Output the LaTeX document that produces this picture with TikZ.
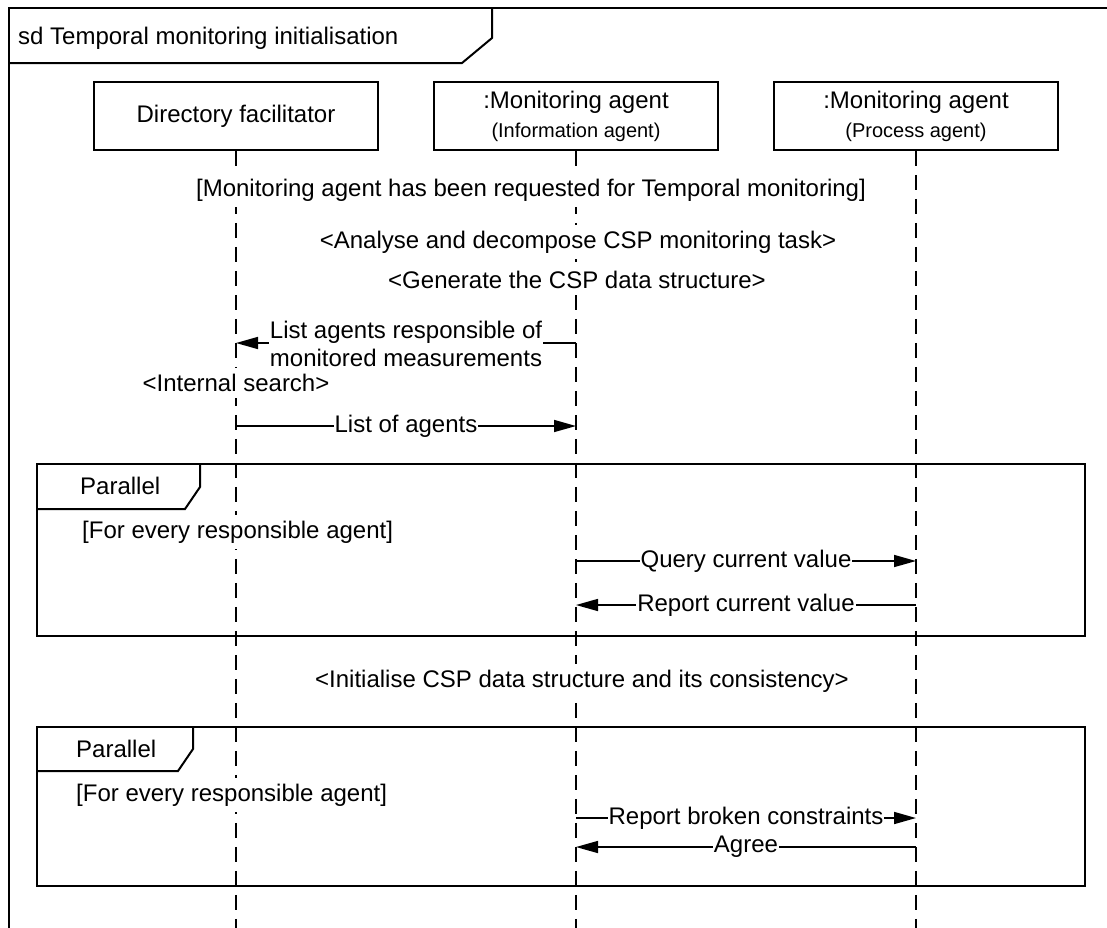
\documentclass[tikz,border=0pt]{standalone}
\usepackage{fontspec}
\setmainfont{Liberation Sans}
\usetikzlibrary{arrows.meta}
\begin{document}
\begin{tikzpicture}[x=1pt,y=-1pt,
  every node/.style={font=\fontsize{24}{28}\selectfont},
  head/.style={draw, line width=1.6pt, minimum width=284pt, minimum height=68pt, align=center, inner sep=0pt},
  life/.style={line width=1.6pt, dash pattern=on 15pt off 9pt},
  frm/.style={line width=2pt},
  msg/.style={line width=1.6pt, -{Triangle[length=22pt,width=12pt]}},
  lbl/.style={fill=white, inner xsep=1pt, inner ysep=0pt},
  guardtext/.style={draw=none, fill=white, inner xsep=1pt, inner ysep=6pt},
]
\useasboundingbox (0,0) rectangle (1107,927);
\clip (0,0) rectangle (1107,927);

% outer sequence-diagram frame and its title tab
\draw[frm] (9,950) -- (9,8) -- (1120,8);
\draw[frm] (9,63) -- (462,63) -- (492,38) -- (492,8);
\node[anchor=west, inner sep=0pt] (title) at (18,38) {sd Temporal monitoring initialisation};

% lifeline heads
\node[head] (df) at (236,116) {Directory facilitator};
\node[head] (im) at (576,116) {:Monitoring agent\\[1pt]{\fontsize{20}{24}\selectfont (Information agent)}};
\node[head] (pa) at (916,116) {:Monitoring agent\\[1pt]{\fontsize{20}{24}\selectfont (Process agent)}};

% lifeline ends
\coordinate (dfEnd) at (236,950);
\coordinate (imEnd) at (576,950);
\coordinate (paEnd) at (916,950);
\draw[life] (df.south) -- (dfEnd);
\draw[life] (im.south) -- (imEnd);
\draw[life] (pa.south) -- (paEnd);

% message anchor points on the lifelines
\coordinate (im1) at (576,343);  \coordinate (df1) at (236,343);
\coordinate (df2) at (236,426);  \coordinate (im2) at (576,426);
\coordinate (im3) at (576,561);  \coordinate (pa3) at (916,561);
\coordinate (pa4) at (916,605);  \coordinate (im4) at (576,605);
\coordinate (im5) at (576,818);  \coordinate (pa5) at (916,818);
\coordinate (pa6) at (916,847);  \coordinate (im6) at (576,847);

% parallel combined fragments
\draw[frm] (37,464) rectangle (1085,636);
\draw[frm] (37,509) -- (185,509) -- (200,487) -- (200,464);
\node[anchor=west, inner sep=0pt] (par1) at (80,486) {Parallel};

\draw[frm] (37,727) rectangle (1085,886);
\draw[frm] (37,771) -- (178,771) -- (193,749) -- (193,727);
\node[anchor=west, inner sep=0pt] (par2) at (76,749) {Parallel};

% messages
\draw[msg] (im1) -- node[lbl, align=center, yshift=-1pt, inner ysep=0pt] {List agents responsible of\\[0pt]monitored measurements} (df1);
\draw[msg] (df2) -- node[lbl] {List of agents} (im2);
\draw[msg] (im3) -- node[lbl] {Query current value} (pa3);
\draw[msg] (pa4) -- node[lbl] {Report current value} (im4);
\draw[msg] (im5) -- node[lbl] {Report broken constraints} (pa5);
\draw[msg] (pa6) -- node[lbl] {Agree} (im6);

% guards and internal actions, laid over the lifelines
\node[guardtext] (g0) at (531,190) {[Monitoring agent has been requested for Temporal monitoring]};
\node[guardtext] (a1) at (578,242) {<Analyse and decompose CSP monitoring task>};
\node[guardtext] (a2) at (577,280) {<Generate the CSP data structure>};
\node[guardtext] (a3) at (236,383) {<Internal search>};
\node[guardtext] (a4) at (582,681) {<Initialise CSP data structure and its consistency>};
\node[guardtext, anchor=west] (g1) at (81,532) {[For every responsible agent]};
\node[guardtext, anchor=west] (g2) at (75,795) {[For every responsible agent]};
\end{tikzpicture}
\end{document}
